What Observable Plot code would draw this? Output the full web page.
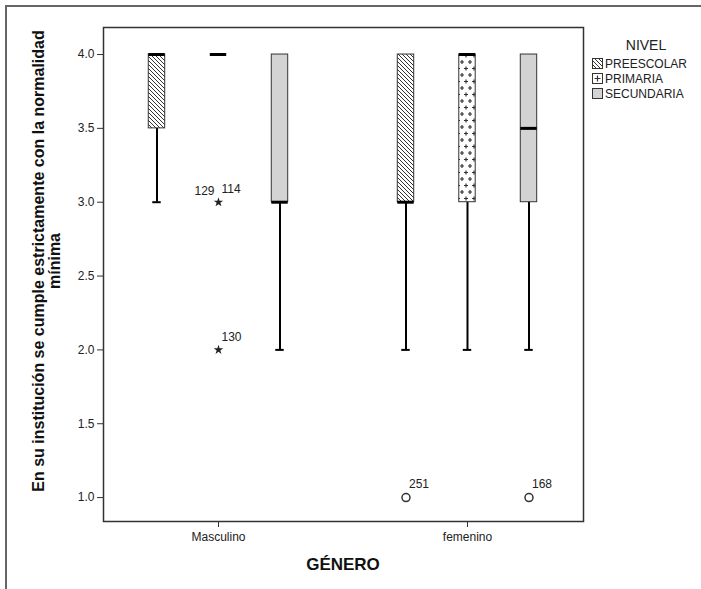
<!DOCTYPE html>
<html>
<head>
<meta charset="utf-8">
<script src="https://cdn.jsdelivr.net/npm/d3@7"></script>
<script src="https://cdn.jsdelivr.net/npm/@observablehq/plot@0.6"></script>
<style>
  html, body { margin: 0; padding: 0; background: #fff; }
  #wrap { position: relative; width: 701px; height: 589px; overflow: hidden; font-family: "Liberation Sans", Arial, sans-serif; }
  #border { position: absolute; left: 5px; top: 5px; right: -10px; bottom: -10px; border-left: 2px solid #666; border-top: 2px solid #666; pointer-events: none; }
  #legend { position: absolute; left: 580px; top: 20px; }
</style>
</head>
<body>
<svg width="0" height="0" style="position:absolute">
  <defs>
    <pattern id="hatch" patternUnits="userSpaceOnUse" width="4" height="4">
      <rect width="4" height="4" fill="#fff"/>
      <path d="M-1,-1 L5,5 M-1,3 L1,5 M3,-1 L5,1" stroke="#333" stroke-width="1"/>
    </pattern>
    <pattern id="plus" patternUnits="userSpaceOnUse" width="8" height="13">
      <rect width="8" height="13" fill="#fff"/>
      <path d="M2,1.5 V5.5 M0,3.5 H4 M6,8 V12 M4,10 H8" stroke="#333" stroke-width="1.2"/>
    </pattern>
  </defs>
</svg>
<div id="wrap">
  <div id="border"></div>
</div>
<script>
// ---- data ----
const genders = ["Masculino", "femenino"];
const levels = ["PREESCOLAR", "PRIMARIA", "SECUNDARIA"];
const boxGender = ["Masculino", "Masculino", "Masculino", "femenino", "femenino", "femenino"];
const boxLevel = ["PREESCOLAR", "PRIMARIA", "SECUNDARIA", "PREESCOLAR", "PRIMARIA", "SECUNDARIA"];
const whiskerLow = [3.0, 4.0, 2.0, 2.0, 2.0, 2.0];
const q1 = [3.5, 4.0, 3.0, 3.0, 3.0, 3.0];
const median = [4.0, 4.0, 3.0, 3.0, 4.0, 3.5];
const q3 = [4.0, 4.0, 4.0, 4.0, 4.0, 4.0];
const whiskerHigh = [4.0, 4.0, 4.0, 4.0, 4.0, 4.0];

const outlierGender = ["Masculino", "Masculino", "femenino", "femenino"];
const outlierLevel = ["PRIMARIA", "PRIMARIA", "PREESCOLAR", "SECUNDARIA"];
const outlierValue = [3.0, 2.0, 1.0, 1.0];
const outlierCases = [["129", "114"], ["130"], ["251"], ["168"]];
const outlierKind = ["extremo", "extremo", "atípico", "atípico"];

const yTicks = [1.0, 1.5, 2.0, 2.5, 3.0, 3.5, 4.0];
const xTitle = "GÉNERO";
const yTitle = ["En su institución se cumple estrictamente con la normalidad", "mínima"];
const legendTitle = "NIVEL";

// ---- layout helpers ----
const levelOffset = [-0.247, 0, 0.247];
const halfBox = 0.033, halfCap = 0.017;
const fills = {PREESCOLAR: "url(#hatch)", PRIMARIA: "url(#plus)", SECUNDARIA: "#d3d3d3"};
const pos = (g, l) => genders.indexOf(g) + levelOffset[levels.indexOf(l)];

const boxes = boxGender.map((g, i) => ({
  g, l: boxLevel[i], x: pos(g, boxLevel[i]),
  lo: whiskerLow[i], q1: q1[i], med: median[i], q3: q3[i], hi: whiskerHigh[i]
}));
const outliers = outlierGender.map((g, i) => ({
  g, l: outlierLevel[i], x: pos(g, outlierLevel[i]), v: outlierValue[i],
  cases: outlierCases[i], kind: outlierKind[i]
}));
const labelsRight = outliers.map(o => ({x: o.x, v: o.v, t: o.cases[o.cases.length > 1 ? 1 : 0]}));
const labelsLeft = outliers.filter(o => o.cases.length > 1).map(o => ({x: o.x, v: o.v, t: o.cases[0]}));

const font = "'Liberation Sans', Arial, sans-serif";

const chart = Plot.plot({
  width: 701, height: 589,
  marginLeft: 103, marginRight: 118, marginTop: 27, marginBottom: 68,
  style: {fontFamily: font, fontSize: "12px", color: "#222", background: "transparent", overflow: "visible"},
  x: {domain: [-0.4618, 1.4659], axis: null},
  y: {domain: [0.838, 4.183], axis: null},
  marks: [
    Plot.axisY({ticks: yTicks, tickFormat: d => d.toFixed(1), tickSize: 6, tickPadding: 3, label: null, fontSize: 12, stroke: "#333"}),
    Plot.axisX({ticks: [0, 1], tickFormat: i => genders[i], tickSize: 6, tickPadding: 5, label: null, fontSize: 12, stroke: "#333"}),
    // whiskers
    Plot.ruleX(boxes.filter(b => b.lo < b.q1), {x: "x", y1: "lo", y2: "q1", stroke: "#000", strokeWidth: 2}),
    Plot.ruleX(boxes.filter(b => b.hi > b.q3), {x: "x", y1: "q3", y2: "hi", stroke: "#000", strokeWidth: 2}),
    Plot.ruleY(boxes.filter(b => b.lo < b.q1), {y: "lo", x1: d => d.x - halfCap, x2: d => d.x + halfCap, stroke: "#000", strokeWidth: 2}),
    // boxes
    ...levels.map(l => Plot.rect(boxes.filter(b => b.l === l && b.q3 > b.q1), {
      x1: d => d.x - halfBox, x2: d => d.x + halfBox, y1: "q1", y2: "q3",
      fill: fills[l], stroke: "#333", strokeWidth: 1
    })),
    // medians
    Plot.ruleY(boxes, {y: "med", x1: d => d.x - halfBox, x2: d => d.x + halfBox, stroke: "#000", strokeWidth: 3}),
    // outliers
    Plot.dot(outliers.filter(o => o.kind === "extremo"), {x: "x", y: "v", symbol: "star", r: 3, fill: "#222", stroke: "none"}),
    Plot.dot(outliers.filter(o => o.kind === "atípico"), {x: "x", y: "v", symbol: "circle", r: 4, fill: "#fff", stroke: "#333", strokeWidth: 1.5}),
    Plot.text(labelsRight, {x: "x", y: "v", text: "t", textAnchor: "start", dx: 3, dy: -13, fontSize: 12, fill: "#222"}),
    Plot.text(labelsLeft, {x: "x", y: "v", text: "t", textAnchor: "end", dx: -4, dy: -11, fontSize: 12, fill: "#222"}),
    Plot.frame({stroke: "#333", strokeWidth: 1.5})
  ]
});

const svg = d3.select(chart);
svg.append("text")
  .attr("x", 343).attr("y", 570)
  .attr("text-anchor", "middle")
  .attr("font-family", font).attr("font-weight", "bold").attr("font-size", 17)
  .attr("fill", "#111")
  .text(xTitle);
const yt = svg.append("text")
  .attr("transform", "translate(44,261) rotate(-90)")
  .attr("text-anchor", "middle")
  .attr("font-family", font).attr("font-weight", "bold").attr("font-size", 16)
  .attr("fill", "#111");
yTitle.forEach((line, i) => {
  yt.append("tspan").attr("x", 0).attr("dy", i === 0 ? 0 : 16).text(line);
});

const wrap = document.getElementById("wrap");
chart.style.position = "absolute";
chart.style.left = "0px";
chart.style.top = "0px";
wrap.appendChild(chart);

// legend
const leg = d3.select(wrap).append("svg")
  .attr("id", "legend").attr("width", 121).attr("height", 100);
leg.append("text").attr("x", 66).attr("y", 30).attr("text-anchor", "middle")
  .attr("font-family", font).attr("font-size", 14).attr("fill", "#222").text(legendTitle);
levels.forEach((l, i) => {
  const y = 38 + i * 15;
  const isPlus = l === "PRIMARIA";
  leg.append("rect").attr("x", 12.5).attr("y", y + 0.5).attr("width", 10).attr("height", 10)
    .attr("fill", isPlus ? "#fff" : fills[l]).attr("stroke", "#333").attr("stroke-width", 1);
  if (isPlus) {
    leg.append("path").attr("d", `M17.5,${y + 2.5} V${y + 8.5} M14.5,${y + 5.5} H20.5`)
      .attr("stroke", "#333").attr("stroke-width", 1.2);
  }
  leg.append("text").attr("x", 25).attr("y", y + 10)
    .attr("font-family", font).attr("font-size", 12).attr("fill", "#222").text(l);
});
</script>
</body>
</html>
